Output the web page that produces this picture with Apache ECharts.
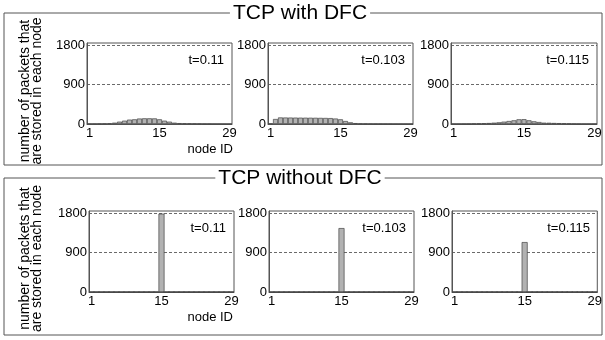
<!DOCTYPE html>
<html>
<head>
<meta charset="utf-8">
<script src="https://cdn.jsdelivr.net/npm/echarts@6/dist/echarts.min.js"></script>
<style>
  html, body { margin: 0; padding: 0; background: #fff; }
  #chart { width: 605px; height: 340px; }
</style>
</head>
<body>
<div id="chart"></div>
<script>
// node IDs (x categories)
const nodes = ["1","2","3","4","5","6","7","8","9","10","11","12","13","14","15",
  "16","17","18","19","20","21","22","23","24","25","26","27","28","29"];
const yTicks = [0, 900, 1800];
const timeLabels = ["t=0.11", "t=0.103", "t=0.115"];
const sectionTitles = ["TCP with DFC", "TCP without DFC"];

// TCP with DFC: packets stored per node
const withDfc011 = [5,5,8,10,15,30,53,76,100,107,125,130,130,128,107,76,53,30,20,15,12,10,8,5,5,3,3,2,2];
const withDfc0103 = [10,114,150,148,147,146,145,144,143,142,140,138,135,125,107,68,38,20,10,8,6,5,5,4,4,3,3,3,3];
const withDfc0115 = [3,3,4,5,10,14,18,22,30,38,53,68,84,107,110,84,61,45,30,28,23,20,15,10,6,4,3,3,3];

// TCP without DFC: everything piles up at node 15
const withoutDfc011 = [0,0,0,0,0,0,0,0,0,0,0,0,0,0,1790,0,0,0,0,0,0,0,0,0,0,0,0,0,0];
const withoutDfc0103 = [0,0,0,0,0,0,0,0,0,0,0,0,0,0,1460,0,0,0,0,0,0,0,0,0,0,0,0,0,0];
const withoutDfc0115 = [0,0,0,0,0,0,0,0,0,0,0,0,0,0,1140,0,0,0,0,0,0,0,0,0,0,0,0,0,0];

const panelData = [withDfc011, withDfc0103, withDfc0115, withoutDfc011, withoutDfc0103, withoutDfc0115];

const FONT = "Liberation Sans, Arial, Helvetica, sans-serif";

// plot boxes (left, top, width, height)
const boxes = [
  [87, 43, 145, 81], [268, 43, 145, 81], [451, 43, 146, 81],
  [89, 211, 145, 81], [269, 211, 145, 81], [452, 211, 146, 81],
];

const grids = boxes.map(([l, t, w, h]) => ({
  left: l, top: t, width: w, height: h,
  show: true, borderColor: "#555", borderWidth: 1,
}));

const xAxes = boxes.map((b, i) => ({
  type: "category",
  gridIndex: i,
  data: nodes,
  axisLine: { lineStyle: { color: "#555", width: 1 } },
  axisTick: { inside: true, length: 3, interval: 0, alignWithLabel: true, lineStyle: { color: "#333" } },
  axisLabel: {
    interval: (idx) => idx === 0 || idx === 14 || idx === 28,
    color: "#000", fontSize: 13, fontFamily: FONT, margin: 3,
  },
  splitLine: { show: false },
}));

const yAxes = boxes.map((b, i) => ({
  type: "value",
  gridIndex: i,
  min: 0, max: 1850, interval: 900,
  axisLine: { show: true, lineStyle: { color: "#555", width: 1 } },
  axisTick: { show: false },
  axisLabel: {
    color: "#000", fontSize: 13, fontFamily: FONT, margin: 2,
    showMaxLabel: false,
    formatter: (v) => (yTicks.includes(v) ? String(v) : ""),
  },
  splitLine: {
    show: true, showMinLine: false, showMaxLine: false,
    lineStyle: { color: "#444", type: [3, 2], width: 0.8 },
  },
}));

const series = panelData.map((d, i) => ({
  type: "bar",
  xAxisIndex: i,
  yAxisIndex: i,
  data: d,
  barCategoryGap: "0%",
  barWidth: i >= 3 ? 6 : undefined,
  itemStyle: { color: "#b2b2b2", borderColor: "#444", borderWidth: 0.7 },
  silent: true,
}));

const graphic = [];
// section frames + titles
const frames = [[4, 13, 598, 152], [4, 178, 598, 157]];
frames.forEach(([x, y, w, h], k) => {
  graphic.push({
    type: "rect", shape: { x: x, y: y, width: w, height: h },
    style: { fill: null, stroke: "#555", lineWidth: 1 }, z: 0,
  });
  graphic.push({
    type: "text", x: 300, y: y,
    style: {
      text: sectionTitles[k], font: "21px " + FONT, fill: "#000",
      align: "center", verticalAlign: "middle",
      backgroundColor: "#fff", padding: [0, 3],
    }, z: 10,
  });
  // y axis title
  graphic.push({
    type: "text", x: 31, y: y + h / 2 + 2, rotation: Math.PI / 2,
    style: {
      text: "number of packets that\nare stored in each node",
      font: "14px " + FONT, fill: "#000", lineHeight: 12,
      align: "center", verticalAlign: "middle",
    }, z: 10,
  });
});
// node ID labels under the first panel of each row
[149, 317].forEach((yy) => {
  graphic.push({
    type: "text", x: 233, y: yy,
    style: { text: "node ID", font: "13px " + FONT, fill: "#000", align: "right", verticalAlign: "middle" },
    z: 10,
  });
});
// time labels
boxes.forEach(([l, t, w], i) => {
  graphic.push({
    type: "text", x: l + w - 8, y: t + 17,
    style: { text: timeLabels[i % 3], font: "13px " + FONT, fill: "#000", align: "right", verticalAlign: "middle" },
    z: 10,
  });
});

const chart = echarts.init(document.getElementById("chart"), null, { renderer: "canvas" });
chart.setOption({
  animation: false,
  backgroundColor: "#fff",
  grid: grids,
  xAxis: xAxes,
  yAxis: yAxes,
  series: series,
  graphic: graphic,
});
</script>
</body>
</html>
